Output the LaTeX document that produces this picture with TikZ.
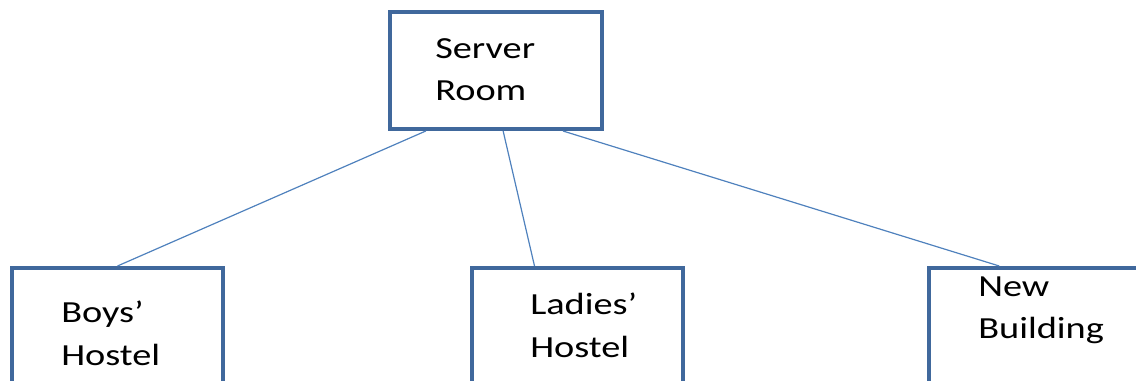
\documentclass[tikz,border=0pt]{standalone}
\usepackage{fontspec}
\setmainfont{Carlito}[FakeStretch=1.25]
\usetikzlibrary{calc}

\definecolor{boxblue}{RGB}{64,104,156}
\definecolor{lineblue}{RGB}{79,129,189}

\tikzset{
	building/.style={draw=boxblue, line width=3pt, inner sep=0pt, anchor=north west,
		minimum width=158.25pt, minimum height=120pt},
	roomtext/.style={anchor=base west, align=left, inner sep=0pt,
		font=\fontsize{23}{32}\selectfont},
	link/.style={draw=lineblue, line width=0.9pt}
}

\begin{document}
\begin{tikzpicture}[x=0.75pt,y=-0.75pt]
		\useasboundingbox (0,0) rectangle (1136,381);
		\clip (0,0) rectangle (1136,381);
		
		% BLOCKS
		\node[building, minimum width=159pt, minimum height=87.75pt] (server) at (388,10) {};
		\node[building] (boys) at (10,266) {};
		\node[building] (ladies) at (470,266) {};
		\node[building] (newbuilding) at (927,266) {};
		
		% LABELS (anchored at the baseline of the last line)
		\node[roomtext] (servertext) at (435,101) {Server\\Room};
		\node[roomtext] (boystext) at (61,365) {Boys’\\Hostel};
		\node[roomtext] (ladiestext) at (530,357) {Ladies’\\Hostel};
		\node[roomtext] (newtext) at (978,339) {New\\Building};
		
		% LINES
		\draw[link] ($(server.south west)!0.175!(server.south east)$) -- (boys.north);
		\draw[link] ($(server.south west)!0.533!(server.south east)$) -- ($(ladies.north west)!0.30!(ladies.north east)$);
		\draw[link] ($(server.south west)!0.81!(server.south east)$) -- ($(newbuilding.north west)!0.336!(newbuilding.north east)$);
	\end{tikzpicture}
\end{document}
